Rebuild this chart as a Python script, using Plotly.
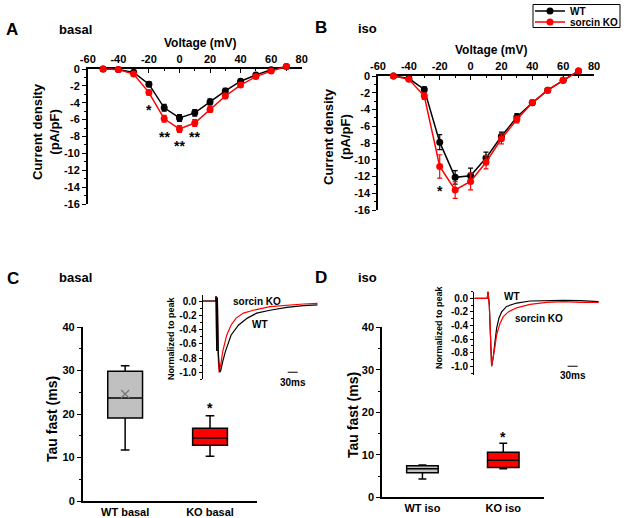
import plotly.graph_objects as go

W, H = 624, 518

# ---------------- data ----------------
voltage = [-50, -40, -30, -20, -10, 0, 10, 20, 30, 40, 50, 60, 70]
basal_wt = [0.0, -0.05, -0.4, -1.8, -4.6, -5.8, -5.2, -3.9, -2.6, -1.45, -0.7, -0.1, 0.3]
basal_wt_err = [0.05, 0.1, 0.2, 0.3, 0.4, 0.4, 0.4, 0.35, 0.3, 0.25, 0.2, 0.15, 0.1]
basal_ko = [0.0, -0.05, -0.6, -2.8, -5.9, -7.1, -6.4, -4.8, -3.2, -1.9, -0.9, -0.25, 0.3]
basal_ko_err = [0.05, 0.1, 0.2, 0.3, 0.4, 0.4, 0.4, 0.35, 0.3, 0.25, 0.2, 0.15, 0.1]
iso_wt = [0.0, -0.3, -1.6, -7.9, -12.1, -11.9, -9.8, -7.2, -4.9, -3.2, -1.7, -0.5, 0.6]
iso_wt_err = [0.05, 0.2, 0.3, 0.9, 0.8, 0.9, 0.7, 0.5, 0.4, 0.3, 0.2, 0.2, 0.1]
iso_ko = [0.0, -0.4, -2.4, -10.8, -13.6, -12.6, -10.3, -7.5, -5.2, -3.2, -1.7, -0.5, 0.6]
iso_ko_err = [0.05, 0.2, 0.4, 1.4, 1.0, 1.0, 0.8, 0.6, 0.4, 0.3, 0.2, 0.2, 0.1]

iv_xticks = [-60, -40, -20, 0, 20, 40, 60, 80]
iv_xticktext = ["-60", "-40", "-20", "0", "20", "40", "60", "80"]
iv_yticks = [0, -2, -4, -6, -8, -10, -12, -14, -16]
iv_yticktext = ["0", "-2", "-4", "-6", "-8", "-10", "-12", "-14", "-16"]

basal_sig_v = [-20, -10, 0, 10]
basal_sig_y = [-4.9, -8.0, -9.1, -8.0]
basal_sig_txt = ["*", "**", "**", "**"]
iso_sig_v = [-20]
iso_sig_y = [-13.7]
iso_sig_txt = ["*"]

basal_groups = ["WT basal", "KO basal"]
basal_q1 = [19.1, 12.8]
basal_median = [23.7, 14.5]
basal_q3 = [29.8, 16.7]
basal_low = [11.7, 10.3]
basal_high = [31.1, 19.6]
basal_wt_mean = [24.6]

iso_groups = ["WT iso", "KO iso"]
iso_q1 = [5.8, 7.0]
iso_median = [6.7, 8.7]
iso_q3 = [7.4, 10.6]
iso_low = [4.3, 6.7]
iso_high = [7.6, 12.7]

box_fill = ["#c0c0c0", "#ff0000"]

tau_ticks = [0, 10, 20, 30, 40]
norm_ticks = [0.0, -0.2, -0.4, -0.6, -0.8, -1.0]
norm_ticktext = ["0.0", "-0.2", "-0.4", "-0.6", "-0.8", "-1.0"]

# normalized current traces (time in ms, value normalized to peak)
c_wt_t = [0, 39, 40, 42, 44, 47, 51, 54, 60, 68, 85, 107, 134, 162, 202, 252, 302, 345]
c_wt_v = [0, 0, 0.07, -0.7, 0.05, -0.73, -1.0, -0.98, -0.85, -0.71, -0.48, -0.34, -0.24, -0.17, -0.13, -0.09, -0.065, -0.055]
c_ko_t = [0, 39, 40, 42, 44, 46, 49, 54, 60, 72, 85, 100, 122, 152, 202, 252, 302, 345]
c_ko_v = [0, 0, 0.07, -0.7, 0.05, -0.75, -1.0, -0.9, -0.71, -0.48, -0.34, -0.24, -0.17, -0.13, -0.08, -0.056, -0.042, -0.033]
d_wt_t = [0, 39, 41, 43, 45, 52, 57, 62, 67, 74, 82, 97, 127, 167, 217, 267, 317, 373]
d_wt_v = [0, 0, 0.1, 0.0, -0.1, -1.0, -0.86, -0.64, -0.44, -0.29, -0.2, -0.12, -0.07, -0.04, -0.03, -0.03, -0.035, -0.05]
d_ko_t = [0, 39, 41, 43, 45, 52, 57, 62, 67, 77, 87, 102, 127, 167, 217, 267, 317, 373]
d_ko_v = [0, 0, 0.1, 0.0, -0.1, -1.0, -0.88, -0.71, -0.54, -0.37, -0.27, -0.2, -0.14, -0.09, -0.06, -0.05, -0.06, -0.06]
c_scale_t = [255, 285]
d_scale_t = [280, 310]
scale_v = [-1.0, -1.0]

# ---------------- helpers ----------------
FONT = "Liberation Sans, Arial, sans-serif"
BLACK = "#000000"
RED = "#ff0000"


def fx(p):
    return p / W


def fy(p):
    return 1 - p / H


def bold(size):
    return dict(family=FONT, size=size, color=BLACK, weight="bold")


fig = go.Figure()

# ---------------- Panel A / B : IV curves ----------------
def iv_traces(v, wt, wte, ko, koe, xa, ya, legend):
    for name, y, e, col, lg in [("WT", wt, wte, BLACK, "legend"), ("sorcin KO", ko, koe, RED, "legend2")]:
        fig.add_trace(go.Scatter(
            x=v, y=y, mode="lines+markers", name=name,
            line=dict(color=col, width=1.5),
            marker=dict(color=col, size=7, symbol="circle"),
            error_y=dict(type="data", array=e, color=col, thickness=1.2, width=2.5),
            xaxis=xa, yaxis=ya, showlegend=legend, legend=lg, cliponaxis=False))


iv_traces(voltage, basal_wt, basal_wt_err, basal_ko, basal_ko_err, "x", "y5", True)
iv_traces(voltage, iso_wt, iso_wt_err, iso_ko, iso_ko_err, "x2", "y6", False)


def iv_xaxis(dom):
    return dict(domain=dom, range=[-60, 80], side="top", automargin=False,
                showline=True, linecolor=BLACK, linewidth=1.5,
                ticks="inside", ticklen=4, tickwidth=1.2, tickcolor=BLACK,
                tickvals=iv_xticks, ticktext=iv_xticktext, tickfont=bold(11),
                minor=dict(ticks="inside", ticklen=2, dtick=10, tickcolor=BLACK),
                showgrid=False, zeroline=False, fixedrange=True)


def iv_yaxis(dom):
    return dict(domain=dom, range=[-16, 0], automargin=False,
                showline=True, linecolor=BLACK, linewidth=1.5,
                ticks="outside", ticklen=4, tickwidth=1.2, tickcolor=BLACK,
                tickvals=iv_yticks, ticktext=iv_yticktext, tickfont=bold(11),
                minor=dict(ticks="outside", ticklen=2, dtick=1, tickcolor=BLACK),
                showgrid=False, zeroline=False)


xa = iv_xaxis([fx(87.8), fx(301.7)]); xa["anchor"] = "y"
ya = iv_yaxis([fy(204), fy(69)]); ya["anchor"] = "x"
xb = iv_xaxis([fx(378), fx(594)]); xb["anchor"] = "y2"
yb = iv_yaxis([fy(210), fy(76)]); yb["anchor"] = "x2"

ppuA = (204 - 69) / 16.0
ppuB = (210 - 76) / 16.0
y5 = dict(domain=[fy(204), fy(69 - 1.0 * ppuA)], range=[-16, 1.0], visible=False, anchor="x", automargin=False)
y6 = dict(domain=[fy(210), fy(76 - 1.0 * ppuB)], range=[-16, 1.0], visible=False, anchor="x2", automargin=False)

# ---------------- Panel C / D : box plots ----------------
def boxes(groups, q1, med, q3, lo, hi, xa_, ya_, width):
    for i, g in enumerate(groups):
        fig.add_trace(go.Box(
            x=[g], q1=[q1[i]], median=[med[i]], q3=[q3[i]],
            lowerfence=[lo[i]], upperfence=[hi[i]],
            fillcolor=box_fill[i], line=dict(color=BLACK, width=1.5),
            width=width, whiskerwidth=0.25, boxpoints=False,
            xaxis=xa_, yaxis=ya_, showlegend=False))


boxes(basal_groups, basal_q1, basal_median, basal_q3, basal_low, basal_high, "x3", "y3", 0.41)
boxes(iso_groups, iso_q1, iso_median, iso_q3, iso_low, iso_high, "x4", "y4", 0.39)
fig.add_trace(go.Scatter(x=basal_groups[:1], y=basal_wt_mean, mode="markers",
                         marker=dict(symbol="x-thin-open", size=8, color="#777777",
                                     line=dict(color="#777777", width=1.2)),
                         xaxis="x3", yaxis="y3", showlegend=False))


def box_xaxis(dom, groups, rng, anchor):
    return dict(domain=dom, range=rng, type="category", categoryorder="array",
                categoryarray=groups, anchor=anchor, automargin=False,
                showline=True, linecolor=BLACK, linewidth=1.5, ticks="",
                tickfont=bold(11), showgrid=False, zeroline=False)


def box_yaxis(dom, anchor):
    return dict(domain=dom, range=[0, 40], anchor=anchor, automargin=False,
                showline=True, linecolor=BLACK, linewidth=1.5,
                ticks="outside", ticklen=4, tickwidth=1.2, tickcolor=BLACK,
                tickvals=tau_ticks, tickfont=bold(11),
                minor=dict(ticks="outside", ticklen=2, dtick=5, tickcolor=BLACK),
                showgrid=False, zeroline=False)


x3 = box_xaxis([fx(82.7), fx(256.7)], basal_groups, [-0.5, 1.55], "y3")
y3 = box_yaxis([fy(501), fy(327)], "x3")
x4 = box_xaxis([fx(382), fx(543.7)], iso_groups, [-0.5, 1.5], "y4")
y4 = box_yaxis([fy(497.3), fy(327.3)], "x4")

# ---------------- insets: normalized traces ----------------
for t, v, col, xa_, ya_ in [(c_ko_t, c_ko_v, RED, "x7", "y7"), (c_wt_t, c_wt_v, BLACK, "x7", "y7"),
                            (d_wt_t, d_wt_v, BLACK, "x8", "y8"), (d_ko_t, d_ko_v, RED, "x8", "y8")]:
    fig.add_trace(go.Scatter(x=t, y=v, mode="lines", line=dict(color=col, width=1.2),
                             xaxis=xa_, yaxis=ya_, showlegend=False))
fig.add_trace(go.Scatter(x=c_scale_t, y=scale_v, mode="lines", line=dict(color=BLACK, width=1.2),
                         xaxis="x7", yaxis="y7", showlegend=False))
fig.add_trace(go.Scatter(x=d_scale_t, y=scale_v, mode="lines", line=dict(color=BLACK, width=1.2),
                         xaxis="x8", yaxis="y8", showlegend=False))


def inset_yaxis(dom, rng, anchor):
    return dict(domain=dom, range=rng, anchor=anchor, automargin=False,
                showline=True, linecolor=BLACK, linewidth=1.2,
                ticks="outside", ticklen=3, tickwidth=1, tickcolor=BLACK,
                tickvals=norm_ticks, ticktext=norm_ticktext, tickfont=bold(10),
                minor=dict(ticks="outside", ticklen=2, dtick=0.1, tickcolor=BLACK),
                showgrid=False, zeroline=False)


x7 = dict(domain=[fx(202.7), fx(317.7)], range=[0, 345], visible=False, anchor="y7", automargin=False)
y7 = inset_yaxis([fy(379.4), fy(295.3)], [-1.1, 0.08], "x7")
x8 = dict(domain=[fx(474.3), fx(599.3)], range=[0, 375], visible=False, anchor="y8", automargin=False)
y8 = inset_yaxis([fy(375.1), fy(291.5)], [-1.13, 0.1], "x8")

# ---------------- annotations ----------------
ann = []


def txt(text, x, y, size, xref="paper", yref="paper", angle=0, weight="bold", **kw):
    f = dict(family=FONT, size=size, color=BLACK, weight=weight)
    ann.append(dict(text=text, x=x, y=y, xref=xref, yref=yref, showarrow=False,
                    font=f, textangle=angle, xanchor="center", yanchor="middle", **kw))


# panel labels
txt("A", fx(12), fy(30), 17)
txt("basal", fx(75), fy(29), 13)
txt("B", fx(321), fy(27), 17)
txt("iso", fx(367), fy(28), 13)
txt("C", fx(12.5), fy(278), 17)
txt("basal", fx(75), fy(277), 13)
txt("D", fx(321), fy(277), 17)
txt("iso", fx(367), fy(277), 13)

# axis titles
txt("Voltage (mV)", fx(200), fy(43), 12)
txt("Voltage (mV)", fx(490.5), fy(50.5), 12)
txt("Current density<br>(pA/pF)", fx(46), fy(132), 13, angle=-90)
txt("Current density<br>(pA/pF)", fx(337), fy(137), 13, angle=-90)
txt("Tau fast (ms)", fx(52), fy(419), 14, angle=-90)
txt("Tau fast (ms)", fx(353), fy(415), 14, angle=-90)
txt("Normalized to peak", fx(171), fy(338), 9, angle=-90)
txt("Normalized to peak", fx(439), fy(327), 9, angle=-90)

# significance
for v, y, s in zip(basal_sig_v, basal_sig_y, basal_sig_txt):
    txt(s, v, y, 14, xref="x", yref="y")
for v, y, s in zip(iso_sig_v, iso_sig_y, iso_sig_txt):
    txt(s, v, y, 14, xref="x2", yref="y2")
txt("*", 1, 21.3, 14, xref="x3", yref="y3")
txt("*", 1, 14.1, 14, xref="x4", yref="y4")

# inset labels
txt("sorcin KO", 162, 0.0, 10, xref="x7", yref="y7")
txt("WT", 171, -0.33, 10, xref="x7", yref="y7")
txt("30ms", 270, -1.0, 10, xref="x7", yref="y7", yshift=-10)
txt("WT", 113, 0.025, 10, xref="x8", yref="y8")
txt("sorcin KO", 195, -0.294, 10, xref="x8", yref="y8")
txt("30ms", 295, -1.0, 10, xref="x8", yref="y8", yshift=-9)

legend_common = dict(xanchor="left", yanchor="middle", bgcolor="rgba(0,0,0,0)",
                     borderwidth=0, font=bold(10), itemwidth=30, tracegroupgap=0)

fig.update_layout(
    template="none",
    width=W, height=H, margin=dict(l=0, r=0, t=0, b=0, pad=0, autoexpand=False),
    paper_bgcolor="white", plot_bgcolor="rgba(0,0,0,0)",
    font=dict(family=FONT, color=BLACK),
    xaxis=xa, yaxis=ya, xaxis2=xb, yaxis2=yb, yaxis5=y5, yaxis6=y6,
    xaxis3=x3, yaxis3=y3, xaxis4=x4, yaxis4=y4,
    xaxis7=x7, yaxis7=y7, xaxis8=x8, yaxis8=y8,
    annotations=ann,
    showlegend=True,
    legend=dict(x=fx(530), y=fy(11), **legend_common),
    legend2=dict(x=fx(530), y=fy(22), **legend_common),
    shapes=[dict(type="rect", xref="paper", yref="paper", x0=fx(533), x1=fx(620),
                 y0=fy(27.5), y1=fy(4.5), line=dict(color=BLACK, width=1))],
)

fig.write_html("out.html", config={"displayModeBar": False},
               post_script="document.body.style.margin='0px';document.body.style.overflow='hidden';")
